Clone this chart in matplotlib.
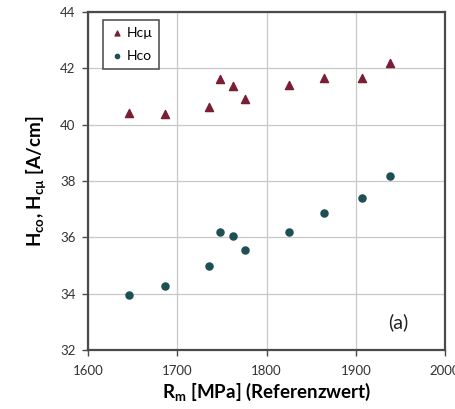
import matplotlib
matplotlib.use("Agg")
import matplotlib.pyplot as plt

plt.rcParams['font.family'] = ['Lato', 'DejaVu Sans']

# Rm reference values [MPa]
rm = [1646, 1686, 1736, 1748, 1762, 1776, 1825, 1864, 1907, 1938]
# coercive field values [A/cm]
hcmu = [40.41, 40.38, 40.63, 41.62, 41.37, 40.90, 41.40, 41.67, 41.66, 42.20]
hco = [33.97, 34.26, 34.99, 36.18, 36.05, 35.55, 36.18, 36.88, 37.38, 38.18]

fig = plt.figure(figsize=(4.56, 4.09), dpi=100)
ax = fig.add_axes([0.193, 0.144, 0.783, 0.827])

ax.scatter(rm, hcmu, marker='^', s=34, color='#7a1f33', label='Hcµ', zorder=3)
ax.scatter(rm, hco, marker='o', s=26, color='#1d4f55', label='Hco', zorder=3)

ax.set_xlim(1600, 2000)
ax.set_ylim(32, 44)
ax.set_xticks([1600, 1700, 1800, 1900, 2000])
ax.set_yticks([32, 34, 36, 38, 40, 42, 44])
ax.grid(True, color='#c8c8c8', linewidth=0.9)
ax.set_axisbelow(True)

for s in ax.spines.values():
    s.set_color('#4a4a4a')
    s.set_linewidth(1.6)
ax.tick_params(length=4, width=1, color='#4a4a4a', labelsize=9.5, labelcolor='#333333')
ax.tick_params(axis='x', pad=7)
ax.tick_params(axis='y', pad=5)

ax.set_xlabel(r'R$_\mathregular{m}$ [MPa] (Referenzwert)', fontsize=13.5, fontweight='bold', labelpad=2)
ax.set_ylabel(r'H$_\mathregular{co}$, H$_\mathregular{cµ}$ [A/cm]', fontsize=13.5, fontweight='bold', labelpad=8)

ax.text(1948, 33.0, '(a)', fontsize=14, ha='center', va='center', color='#222222')

leg = ax.legend(loc='upper left', bbox_to_anchor=(0.022, 0.997), fontsize=10, frameon=True,
                fancybox=False, handletextpad=0.2, borderpad=0.5, labelspacing=0.8,
                handlelength=1.0, markerscale=0.6, framealpha=1)
leg.get_frame().set_edgecolor('#555555')
leg.get_frame().set_linewidth(1.2)

fig.savefig('out.png', dpi=100)
